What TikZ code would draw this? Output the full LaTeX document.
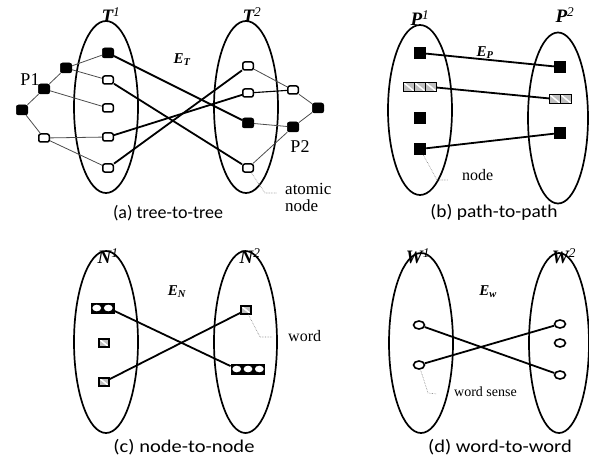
\documentclass[tikz,border=0pt]{standalone}
\usepackage{fontspec}
\setmainfont{Liberation Serif}
\newfontfamily\capfont{Carlito}
\usetikzlibrary{shapes.geometric}

\tikzset{
  setlbl/.style={font=\fontsize{19}{21}\selectfont\bfseries\itshape, inner sep=0},
  elbl/.style={font=\fontsize{15}{17}\selectfont\bfseries\itshape, inner sep=0},
  note/.style={inner sep=0, anchor=west, align=left},
  caption/.style={font=\capfont\fontsize{18}{21}\selectfont, inner sep=0},
  blob/.style={draw, ellipse, line width=1.7pt, inner sep=0},
  blk/.style={fill=black, draw=black, line width=0.5pt, rounded corners=2.2pt,
    minimum width=11.5pt, minimum height=10pt, inner sep=0},
  wht/.style={draw=black, fill=white, line width=1.5pt, rounded corners=2pt,
    minimum width=10.5pt, minimum height=8pt, inner sep=0},
  sq/.style={fill=black, minimum size=12pt, inner sep=0},
  hcell/.style={draw=black, line width=1.3pt, fill=gray!50, minimum width=11pt,
    minimum height=9pt, inner sep=0,
    path picture={\draw[white, line width=1.5pt]
      (path picture bounding box.north west) -- (path picture bounding box.south east);}},
  ccell/.style={fill=black, draw=black, line width=1pt, minimum width=11.5pt,
    minimum height=10pt, inner sep=0,
    path picture={\fill[white] (path picture bounding box.center)
      ellipse [x radius=4.4pt, y radius=3.3pt];}},
  sense/.style={draw, ellipse, fill=white, line width=1.6pt, minimum width=11pt,
    minimum height=8pt, inner sep=0},
  bond/.style={line width=1.8pt},
  twig/.style={line width=0.8pt, gray!60!black},
  leader/.style={densely dotted, line width=0.6pt, gray},
}

\begin{document}
\begin{tikzpicture}[x=1pt, y=-1pt]
\useasboundingbox (0,0) rectangle (589,468);

% ---------------- (a) tree-to-tree ----------------
\node[blob, minimum width=64pt, minimum height=172pt] (T1) at (106,107) {};
\node[blob, minimum width=64pt, minimum height=172pt] (T2) at (246,107) {};
\node[setlbl] (T1l) at (111,15) {T\textsuperscript{\mdseries 1}};
\node[setlbl] (T2l) at (252,15) {T\textsuperscript{\mdseries 2}};
\node[elbl] (ET) at (182,60) {E\textsubscript{T}};

\node[blk] (t1a) at (108,53) {};
\node[wht] (t1b) at (108,80) {};
\node[wht] (t1c) at (108,108) {};
\node[wht] (t1d) at (108,137) {};
\node[wht] (t1e) at (108,168) {};

\node[blk] (root) at (22,110) {};
\node[blk] (p1n) at (44,89) {};
\node[blk] (up) at (66,68) {};
\node[wht] (lw) at (44,138) {};
\node[font=\fontsize{18}{20}\selectfont, inner sep=0] (P1l) at (30,80) {P1};

\node[wht] (t2a) at (248,66) {};
\node[wht] (t2b) at (248,93) {};
\node[blk] (t2c) at (248,123) {};
\node[wht] (t2d) at (248,168) {};

\node[wht] (rw) at (293,90) {};
\node[blk] (rb1) at (318,108) {};
\node[blk] (rb2) at (293,127) {};
\node[font=\fontsize{18}{20}\selectfont, inner sep=0] (P2l) at (300,147) {P2};

\draw[twig] (root) -- (p1n);
\draw[twig] (root) -- (lw);
\draw[twig] (p1n) -- (up);
\draw[twig] (p1n) -- (t1c);
\draw[twig] (up) -- (t1a);
\draw[twig] (up) -- (t1b);
\draw[twig] (lw) -- (t1d);
\draw[twig] (lw) -- (t1e);
\draw[twig] (t2a) -- (rw);
\draw[twig, line width=1.1pt, black] (t2b) -- (rw);
\draw[twig] (rw) -- (rb1);
\draw[twig] (rb1) -- (rb2);
\draw[twig] (rb2) -- (t2c);
\draw[twig] (rb2) -- (t2d);

\draw[bond] (t1a) -- (t2c);
\draw[bond] (t1b) -- (t2d);
\draw[bond] (t1d) -- (t2b);
\draw[bond] (t1e) -- (t2a);

\coordinate (la1) at (265,193);
\coordinate (la2) at (277,193);
\draw[leader] (t2d) -- (la1) -- (la2);
\node[note, font=\fontsize{17}{17}\selectfont] (atom) at (285,197) {atomic\\node};

\node[caption] (capa) at (168,213) {(a) tree-to-tree};

% ---------------- (b) path-to-path ----------------
\node[blob, minimum width=64pt, minimum height=170pt] (P1) at (420,110) {};
\node[blob, minimum width=60pt, minimum height=171pt] (P2) at (558,118) {};
\node[setlbl] (P1lab) at (420,18) {P\textsuperscript{\mdseries 1}};
\node[setlbl] (P2lab) at (565,15) {P\textsuperscript{\mdseries 2}};
\node[elbl] (EP) at (485,53) {E\textsubscript{P}};

\node[sq] (p1a) at (420,53) {};
\node[hcell] (p1h1) at (409,87) {};
\node[hcell] (p1h2) at (420,87) {};
\node[hcell] (p1h3) at (431,87) {};
\node[sq] (p1c) at (420,118) {};
\node[sq] (p1d) at (420,149) {};

\node[sq] (p2a) at (560,67) {};
\node[hcell] (p2h1) at (555,99) {};
\node[hcell] (p2h2) at (566,99) {};
\node[sq] (p2c) at (560,133) {};

\draw[bond] (p1a) -- (p2a);
\draw[bond] (p1h3) -- (p2h1);
\draw[bond] (p1d) -- (p2c);

\coordinate (lb1) at (437,180);
\coordinate (lb2) at (448,180);
\draw[leader] (p1d) -- (lb1) -- (lb2);
\node[note, font=\fontsize{16}{18}\selectfont] (nodeb) at (462,175) {node};

\node[caption] (capb) at (494,212) {\scalebox{1.08}[1]{(b) path-to-path}};

% ---------------- (c) node-to-node ----------------
\node[blob, minimum width=64pt, minimum height=182pt] (N1) at (106,342) {};
\node[blob, minimum width=63pt, minimum height=182pt] (N2) at (245.5,342) {};
\node[setlbl] (N1l) at (108,256) {N\textsuperscript{\mdseries 1}};
\node[setlbl] (N2l) at (250,256) {N\textsuperscript{\mdseries 2}};
\node[elbl] (EN) at (177,292) {E\textsubscript{N}};

\node[ccell] (n1c1) at (96.75,308) {};
\node[ccell] (n1c2) at (108.25,308) {};
\node[hcell, minimum width=10pt, minimum height=8pt] (n1h1) at (104,343) {};
\node[hcell, minimum width=10pt, minimum height=8pt] (n1h2) at (104,382) {};

\node[hcell, minimum width=10pt, minimum height=8pt] (n2h) at (246,310) {};
\node[ccell, minimum width=11.3pt] (n2c1) at (236.7,369) {};
\node[ccell, minimum width=11.3pt] (n2c2) at (248,369) {};
\node[ccell, minimum width=11.3pt] (n2c3) at (259.3,369) {};

\draw[bond] (n1c2) -- (n2c1);
\draw[bond] (n1h2) -- (n2h);

\coordinate (lc1) at (260,337);
\coordinate (lc2) at (273,337);
\draw[leader] (n2h) -- (lc1) -- (lc2);
\node[note, font=\fontsize{16}{18}\selectfont] (wordc) at (288,336) {word};

\node[caption] (capc) at (184,447) {\scalebox{1.14}[1]{(c) node-to-node}};

% ---------------- (d) word-to-word ----------------
\node[blob, minimum width=64pt, minimum height=180pt] (W1) at (421,343) {};
\node[blob, minimum width=60pt, minimum height=180pt] (W2) at (559,343) {};
\node[setlbl] (W1l) at (418,256) {W\textsuperscript{\mdseries 1}};
\node[setlbl] (W2l) at (564,256) {W\textsuperscript{\mdseries 2}};
\node[elbl] (Ew) at (488,292) {E\textsubscript{w}};

\node[sense] (w1a) at (419,325) {};
\node[sense] (w1b) at (419,365) {};
\node[sense] (w2a) at (560,324) {};
\node[sense] (w2b) at (560,343) {};
\node[sense] (w2c) at (560,375) {};

\draw[bond] (w1a) -- (w2c);
\draw[bond] (w1b) -- (w2a);

\coordinate (ld1) at (428,393);
\coordinate (ld2) at (437,394);
\draw[leader] (w1b) -- (ld1) -- (ld2);
\node[note, font=\fontsize{14}{16}\selectfont] (sensed) at (454,392) {word sense};

\node[caption] (capd) at (500,447) {\scalebox{1.14}[1]{(d) word-to-word}};
\end{tikzpicture}
\end{document}
